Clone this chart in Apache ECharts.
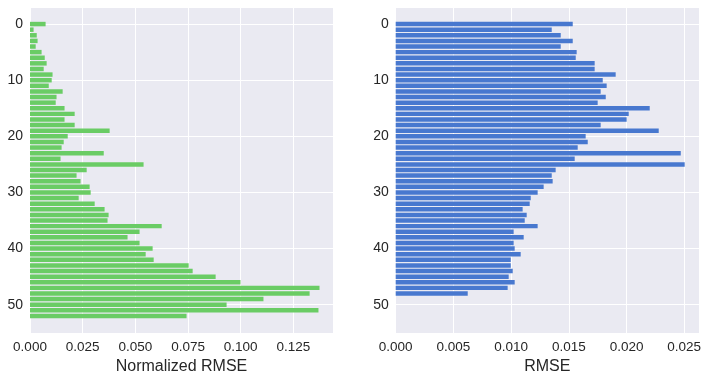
<!DOCTYPE html>
<html>
<head>
<meta charset="utf-8">
<script src="https://cdn.jsdelivr.net/npm/echarts@6/dist/echarts.min.js"></script>
<style>
  html, body { margin: 0; padding: 0; background: #fff; }
  #chart { width: 708px; height: 380px; }
</style>
</head>
<body>
<div id="chart"></div>
<script>
// Normalized RMSE por índice (panel izquierdo)
const nrmse = [
  0.0074, 0.0017, 0.0032, 0.0036, 0.0027, 0.0055, 0.0070, 0.0079, 0.0065, 0.0107,
  0.0103, 0.0089, 0.0155, 0.0126, 0.0122, 0.0164, 0.0212, 0.0164, 0.0212, 0.0378,
  0.0179, 0.0160, 0.0150, 0.0350, 0.0145, 0.0539, 0.0269, 0.0221, 0.0240, 0.0283,
  0.0288, 0.0231, 0.0307, 0.0354, 0.0373, 0.0368, 0.0625, 0.0520, 0.0463, 0.0520,
  0.0582, 0.0549, 0.0587, 0.0753, 0.0772, 0.0881, 0.0999, 0.1374, 0.1327, 0.1108,
  0.0933, 0.1369, 0.0743
];

// RMSE por índice (panel derecho)
const rmse = [
  0.01534, 0.01352, 0.01430, 0.01534, 0.01430, 0.01568, 0.01560, 0.01724, 0.01724, 0.01906,
  0.01794, 0.01828, 0.01776, 0.01820, 0.01750, 0.02201, 0.02019, 0.02001, 0.01776, 0.02279,
  0.01646, 0.01664, 0.01577, 0.02470, 0.01551, 0.02504, 0.01386, 0.01352, 0.01360, 0.01282,
  0.01230, 0.01170, 0.01161, 0.01100, 0.01135, 0.01118, 0.01230, 0.01022, 0.01109, 0.01022,
  0.01031, 0.01083, 0.00997, 0.00997, 0.01014, 0.00979, 0.01031, 0.00970, 0.00624
];

const yTicks = [0, 10, 20, 30, 40, 50];

document.addEventListener('DOMContentLoaded', () => {
  var chart = echarts.init(document.getElementById('chart'));

  const FONT = '"Liberation Sans", Arial, sans-serif';
  const TXT = '#262626';

  // barras horizontales dibujadas con las escalas de los ejes
  function barRenderer(color) {
    return function (params, api) {
      var idx = api.value(1);
      var start = api.coord([0, idx]);
      var end = api.coord([api.value(0), idx]);
      var h = api.size([0, 0.8])[1];
      return {
        type: 'rect',
        shape: { x: start[0], y: start[1] - h / 2, width: end[0] - start[0], height: h },
        style: { fill: color }
      };
    };
  }

  function xAxisFor(gridIndex, max, interval, name) {
    return {
      gridIndex: gridIndex,
      type: 'value',
      min: 0,
      max: max,
      interval: interval,
      name: name,
      nameLocation: 'middle',
      nameGap: 22,
      nameTextStyle: { fontFamily: FONT, fontSize: 16, color: TXT },
      axisLine: { show: false },
      axisTick: { show: false },
      axisLabel: {
        fontFamily: FONT, fontSize: 13.5, color: TXT, margin: 7,
        showMaxLabel: false,
        formatter: v => v.toFixed(3)
      },
      splitLine: { show: true, lineStyle: { color: '#ffffff', width: 1 } }
    };
  }

  function yAxisFor(gridIndex) {
    return {
      gridIndex: gridIndex,
      type: 'value',
      inverse: true,
      min: -3.04,
      max: 55.04,
      splitNumber: 5,
      axisLine: { show: false },
      axisTick: { show: false },
      axisLabel: {
        fontFamily: FONT, fontSize: 14, color: TXT, margin: 7,
        showMinLabel: false, showMaxLabel: false,
        formatter: v => (yTicks.indexOf(v) >= 0 ? String(v) : '')
      },
      splitLine: { show: true, lineStyle: { color: '#ffffff', width: 1 } }
    };
  }

  const option = {
    animation: false,
    grid: [
      { left: 30, top: 7, width: 303, height: 326, show: true, backgroundColor: '#EAEAF2', borderWidth: 0 },
      { left: 395.7, top: 7, width: 303.3, height: 326, show: true, backgroundColor: '#EAEAF2', borderWidth: 0 }
    ],
    xAxis: [
      xAxisFor(0, 0.1438, 0.025, 'Normalized RMSE'),
      xAxisFor(1, 0.02628, 0.005, 'RMSE')
    ],
    yAxis: [yAxisFor(0), yAxisFor(1)],
    series: [
      {
        type: 'custom',
        xAxisIndex: 0, yAxisIndex: 0,
        renderItem: barRenderer('#6ACC65'),
        encode: { x: 0, y: 1 },
        data: nrmse.map((v, i) => [v, i])
      },
      {
        type: 'custom',
        xAxisIndex: 1, yAxisIndex: 1,
        renderItem: barRenderer('#4878CF'),
        encode: { x: 0, y: 1 },
        data: rmse.map((v, i) => [v, i])
      }
    ]
  };

  chart.setOption(option);
  window.addEventListener('resize', () => chart.resize());
});
</script>
</body>
</html>
